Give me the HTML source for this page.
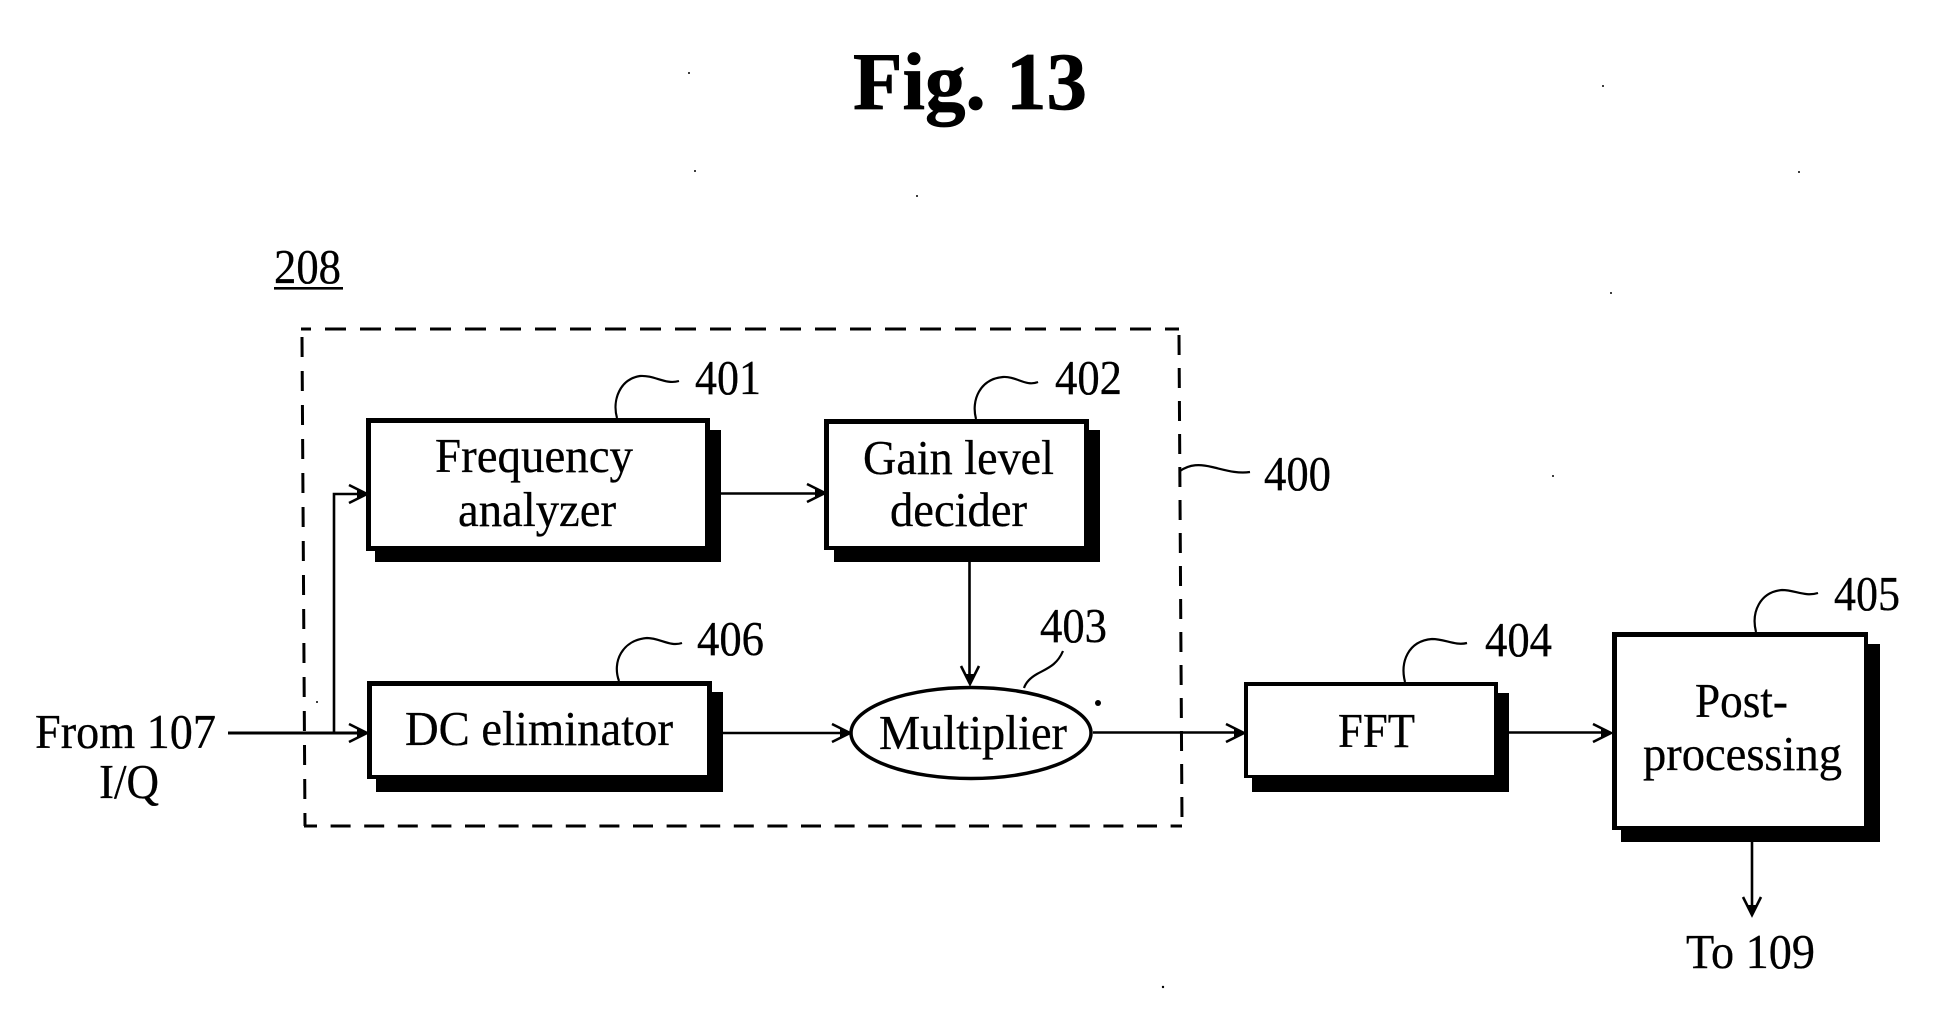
<!DOCTYPE html>
<html><head><meta charset="utf-8"><style>
html,body{margin:0;padding:0;background:#fff}
svg{display:block}
text{font-family:"Liberation Serif",serif;fill:#000;stroke:#000;stroke-width:.3;font-size:49px}
</style></head><body>
<svg width="1952" height="1019" viewBox="0 0 1952 1019" xmlns="http://www.w3.org/2000/svg">
<defs>
<g id="a"><path d="M-18 -9L0 0L-18 9" fill="none" stroke="#000" stroke-width="2.6"/><path d="M1 0L-10 -4V4Z"/></g>
</defs>
<rect width="1952" height="1019" fill="#fff"/>
<text x="853" y="109" textLength="234" lengthAdjust="spacingAndGlyphs" style="font-weight:bold;font-size:82px;stroke-width:.8">Fig. 13</text>
<text x="274" y="283" textLength="67" lengthAdjust="spacingAndGlyphs">208</text>
<rect x="274" y="287" width="69" height="2.6"/>
<!-- dashed container -->
<g fill="none" stroke="#000" stroke-width="3">
<path d="M301 329H1179" stroke-dasharray="21 14" stroke-dashoffset="11"/>
<path d="M302 337L305 826" stroke-dasharray="20 14"/>
<path d="M304 826H1182" stroke-dasharray="20 13.6" stroke-dashoffset="7"/>
<path d="M1179 335L1182 821" stroke-dasharray="20 13"/>
</g>
<!-- shadows -->
<rect x="375" y="430" width="346" height="132"/>
<rect x="834" y="430" width="266" height="132"/>
<rect x="376" y="692" width="347" height="100"/>
<rect x="1252" y="693" width="257" height="99"/>
<rect x="1621" y="644" width="259" height="198"/>
<!-- boxes -->
<rect x="366" y="418" width="344" height="133"/><rect x="371" y="423" width="334" height="123" fill="#fff"/>
<rect x="824" y="419" width="265" height="131"/><rect x="829" y="424" width="255" height="122" fill="#fff"/>
<rect x="367" y="681" width="345" height="98"/><rect x="372" y="686" width="335" height="89" fill="#fff"/>
<rect x="1244" y="682" width="254" height="96"/><rect x="1248" y="686" width="246" height="89" fill="#fff"/>
<rect x="1612" y="632" width="256" height="198"/><rect x="1617" y="637" width="247" height="189" fill="#fff"/>
<ellipse cx="971" cy="733" rx="120" ry="45.5" fill="#fff" stroke="#000" stroke-width="3.5"/>
<!-- connectors -->
<g fill="none" stroke="#000" stroke-width="2.6">
<path d="M228 733H366" stroke-width="3"/>
<path d="M334 733V494H365"/>
<path d="M721 493.500H824"/>
<path d="M969.500 562V682"/>
<path d="M723 733H849"/>
<path d="M1093 732.500H1243"/>
<path d="M1509 732.500H1610"/>
<path d="M1752 842V914"/>
</g>
<use href="#a" transform="translate(367 494)"/>
<use href="#a" transform="translate(367 733)"/>
<use href="#a" transform="translate(825 493)"/>
<use href="#a" transform="translate(970 684) rotate(90)"/>
<use href="#a" transform="translate(850 733)"/>
<use href="#a" transform="translate(1244 733)"/>
<use href="#a" transform="translate(1611 733)"/>
<use href="#a" transform="translate(1752 915) rotate(90)"/>
<!-- leaders -->
<g fill="none" stroke="#000" stroke-width="2.2">
<path d="M617 418C612 400 620 379 640 376C655 375 665 385 679 381"/>
<path d="M619 681C612 662 622 640 647 638C660 638 670 647 682 643"/>
<path d="M976 419C971 400 980 379 1003 377C1016 376 1026 387 1038 382"/>
<path d="M1180 471C1190 464 1200 464 1212 467C1225 470 1237 474 1250 472"/>
<path d="M1063 651C1057 665 1048 668 1037 674C1030 678 1026 682 1024 688"/>
<path d="M1405 682C1400 662 1408 641 1432 639C1445 639 1455 646 1467 643"/>
<path d="M1756 632C1751 612 1760 592 1782 590C1795 590 1805 597 1818 593"/>
</g>
<!-- labels -->
<text x="435" y="472" textLength="198" lengthAdjust="spacingAndGlyphs">Frequency</text>
<text x="458" y="526" textLength="158" lengthAdjust="spacingAndGlyphs">analyzer</text>
<text x="863" y="474" textLength="191" lengthAdjust="spacingAndGlyphs">Gain level</text>
<text x="890" y="526" textLength="137" lengthAdjust="spacingAndGlyphs">decider</text>
<text x="405" y="745" textLength="268" lengthAdjust="spacingAndGlyphs">DC eliminator</text>
<text x="879" y="749" textLength="188" lengthAdjust="spacingAndGlyphs">Multiplier</text>
<text x="1338" y="747" textLength="77" lengthAdjust="spacingAndGlyphs">FFT</text>
<text x="1695" y="717" textLength="93" lengthAdjust="spacingAndGlyphs">Post-</text>
<text x="1643" y="770" textLength="199" lengthAdjust="spacingAndGlyphs">processing</text>
<text x="1686" y="968" textLength="129" lengthAdjust="spacingAndGlyphs">To 109</text>
<text x="35" y="748" textLength="181" lengthAdjust="spacingAndGlyphs">From 107</text>
<text x="99" y="798" textLength="60" lengthAdjust="spacingAndGlyphs">I/Q</text>
<text x="695" y="394" textLength="66" lengthAdjust="spacingAndGlyphs">401</text>
<text x="697" y="655" textLength="67" lengthAdjust="spacingAndGlyphs">406</text>
<text x="1055" y="394" textLength="67" lengthAdjust="spacingAndGlyphs">402</text>
<text x="1264" y="490" textLength="67" lengthAdjust="spacingAndGlyphs">400</text>
<text x="1040" y="642" textLength="67" lengthAdjust="spacingAndGlyphs">403</text>
<text x="1485" y="656" textLength="67" lengthAdjust="spacingAndGlyphs">404</text>
<text x="1834" y="610" textLength="66" lengthAdjust="spacingAndGlyphs">405</text>
<!-- specks -->
<g>
<circle cx="1098" cy="703" r="3"/>
<circle cx="689" cy="73" r="1"/><circle cx="1603" cy="86" r="1"/><circle cx="917" cy="196" r="1"/>
<circle cx="695" cy="171" r="1"/><circle cx="1799" cy="172" r="1"/><circle cx="1611" cy="293" r="1"/>
<circle cx="1553" cy="476" r="1"/><circle cx="1163" cy="987" r="1.2"/><circle cx="317" cy="702" r="1"/>
</g>
</svg>
</body></html>
